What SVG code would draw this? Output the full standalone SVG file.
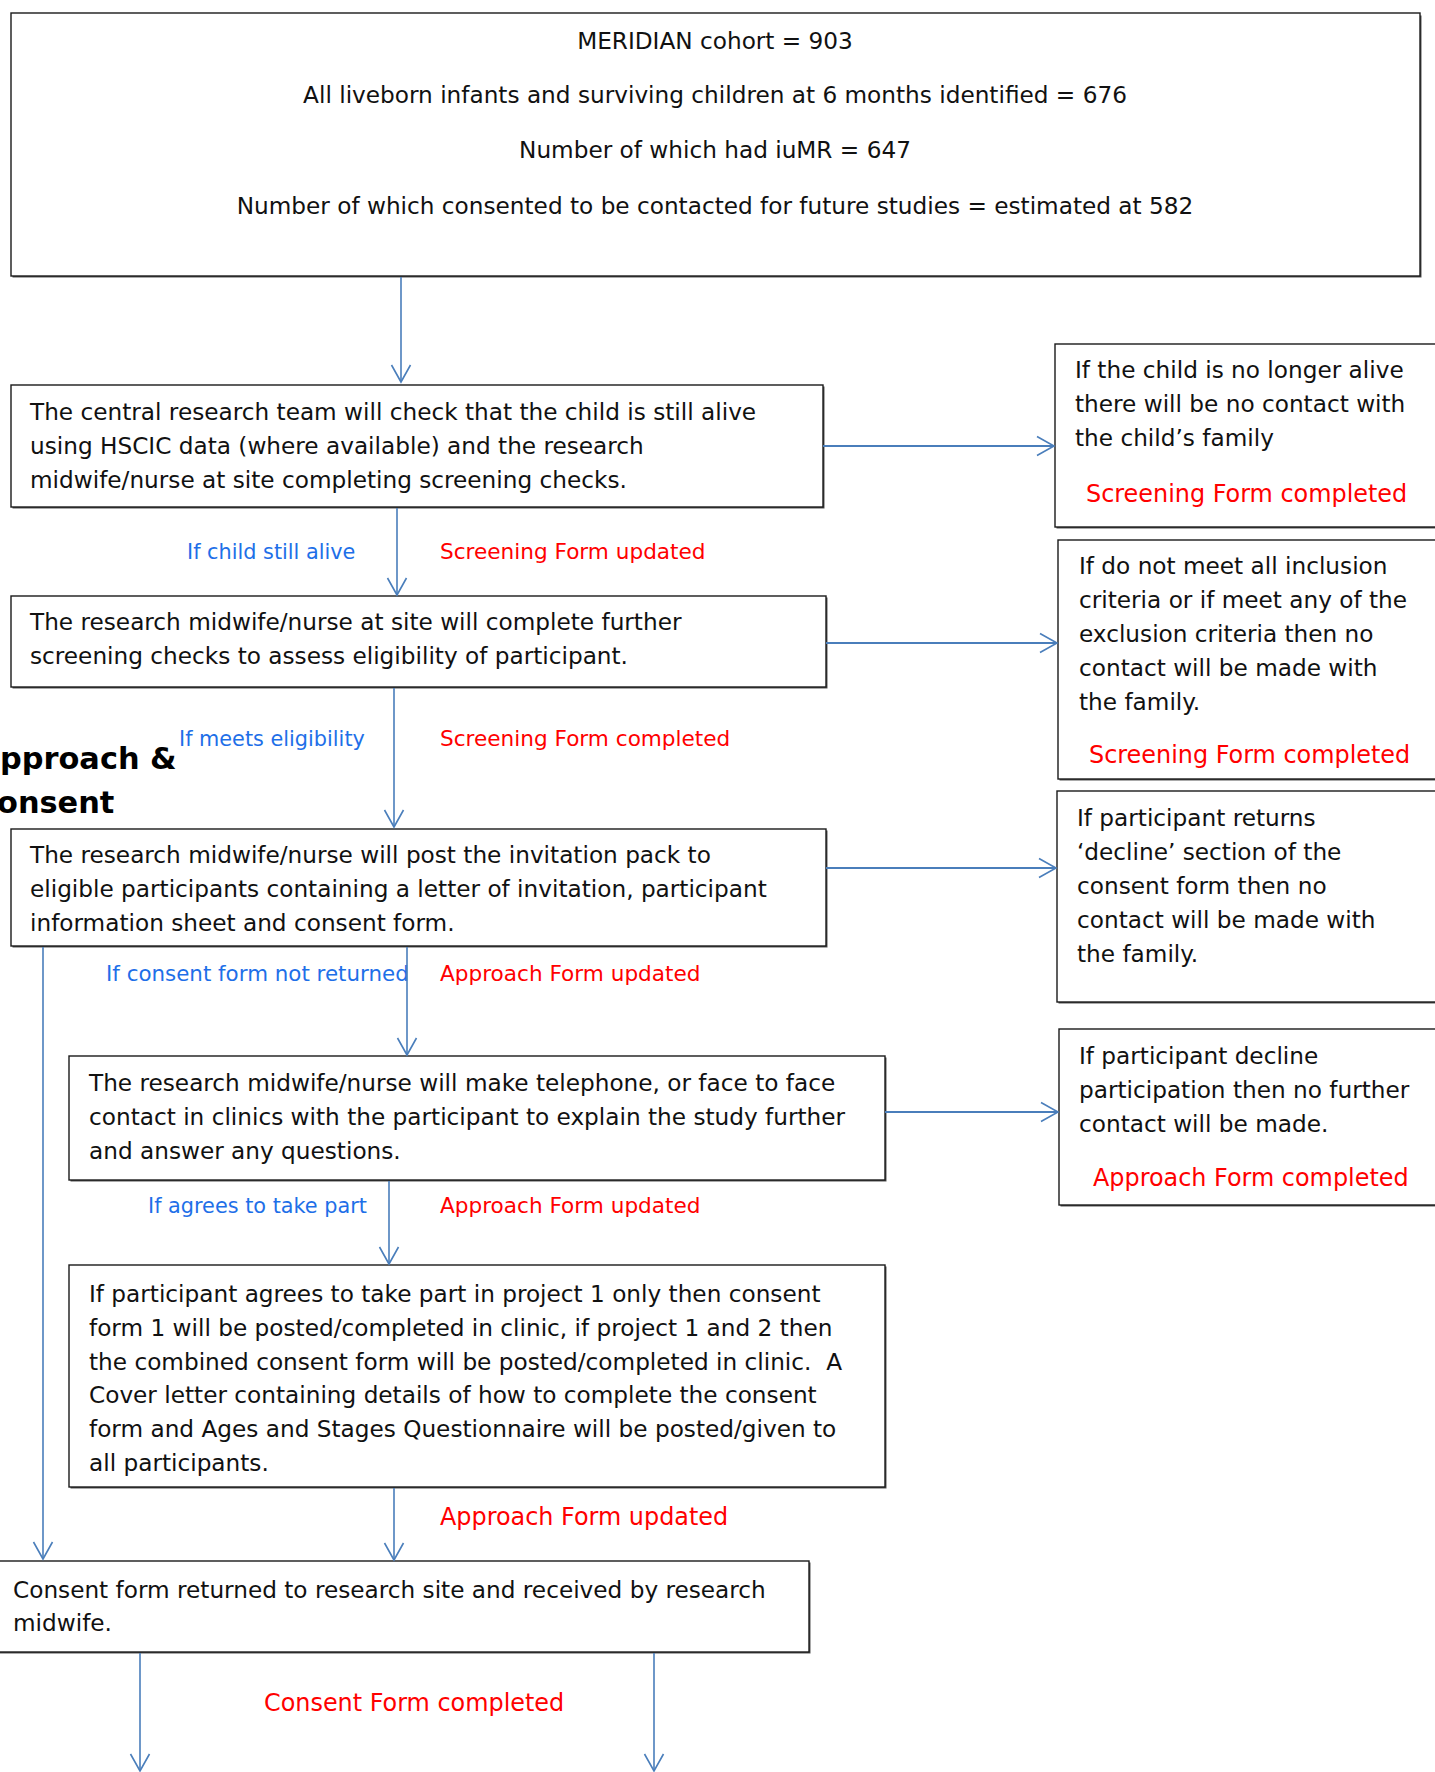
<svg xmlns="http://www.w3.org/2000/svg" width="1435" height="1772" viewBox="0 0 1435 1772">
<style>
.box{fill:#fff;stroke:#1a1a1a;stroke-width:1.4}
.sh{fill:#555;stroke:none}
.t{font-family:"DejaVu Sans",Verdana,sans-serif;font-size:23.2px;fill:#111}
.c{text-anchor:middle}
.lb{font-family:"DejaVu Sans",Verdana,sans-serif;font-size:20.8px;fill:#1E6FE8}
.lr{font-family:"DejaVu Sans",Verdana,sans-serif;font-size:21.6px;fill:#FF0000}
.rr{font-family:"DejaVu Sans",Verdana,sans-serif;font-size:23.9px;fill:#FF0000}
.h{font-family:"DejaVu Sans",Verdana,sans-serif;font-size:30.4px;font-weight:bold;fill:#000}
.cn{fill:none;stroke:#4A7EBB;stroke-width:1.6}
.cnh{fill:none;stroke:#4A7EBB;stroke-width:2.2}
</style>
<defs>
<marker id="arr" markerUnits="userSpaceOnUse" markerWidth="22" markerHeight="22" viewBox="-19 -11 21 22" refX="0" refY="0" orient="auto">
<path d="M-17,-9.5 L0,0 L-17,9.5" fill="none" stroke="#4A7EBB" stroke-width="1.6"/>
</marker>
</defs>
<rect width="1435" height="1772" fill="#fff"/>

<g id="heading">
<text class="h" x="0" y="769">pproach &amp;</text>
<text class="h" x="-3" y="813">onsent</text>
</g>

<g id="n-cohort">
<rect class="sh" x="12.5" y="15.5" width="1409" height="262"/>
<rect class="box" x="11" y="13" width="1409" height="263"/>
<text class="t c" x="715" y="49">MERIDIAN cohort = 903</text>
<text class="t c" x="715" y="103">All liveborn infants and surviving children at 6 months identified = 676</text>
<text class="t c" x="715" y="158">Number of which had iuMR = 647</text>
<text class="t c" x="715" y="214">Number of which consented to be contacted for future studies = estimated at 582</text>
</g>

<g id="n-check">
<rect class="sh" x="12.5" y="386.5" width="812" height="122"/>
<rect class="box" x="11" y="385" width="812" height="122"/>
<text class="t" x="30" y="420">The central research team will check that the child is still alive</text>
<text class="t" x="30" y="454">using HSCIC data (where available) and the research</text>
<text class="t" x="30" y="488">midwife/nurse at site completing screening checks.</text>
</g>

<g id="n-notalive">
<rect class="sh" x="1056.5" y="345.5" width="390" height="183"/>
<rect class="box" x="1055" y="344" width="390" height="183"/>
<text class="t" x="1075" y="378">If the child is no longer alive</text>
<text class="t" x="1075" y="412">there will be no contact with</text>
<text class="t" x="1075" y="446">the child’s family</text>
<text class="rr" x="1086" y="502">Screening Form completed</text>
</g>

<g id="n-eligibility">
<rect class="sh" x="12.5" y="597.5" width="815" height="91"/>
<rect class="box" x="11" y="596" width="815" height="91"/>
<text class="t" x="30" y="630">The research midwife/nurse at site will complete further</text>
<text class="t" x="30" y="664">screening checks to assess eligibility of participant.</text>
</g>

<g id="n-noteligible">
<rect class="sh" x="1059.5" y="541.5" width="390" height="239"/>
<rect class="box" x="1058" y="540" width="390" height="239"/>
<text class="t" x="1079" y="574">If do not meet all inclusion</text>
<text class="t" x="1079" y="608">criteria or if meet any of the</text>
<text class="t" x="1079" y="642">exclusion criteria then no</text>
<text class="t" x="1079" y="676">contact will be made with</text>
<text class="t" x="1079" y="710">the family.</text>
<text class="rr" x="1089" y="763">Screening Form completed</text>
</g>

<g id="n-invitation">
<rect class="sh" x="12.5" y="830.5" width="815" height="117"/>
<rect class="box" x="11" y="829" width="815" height="117"/>
<text class="t" x="30" y="863">The research midwife/nurse will post the invitation pack to</text>
<text class="t" x="30" y="897">eligible participants containing a letter of invitation, participant</text>
<text class="t" x="30" y="931">information sheet and consent form.</text>
</g>

<g id="n-declinereturn">
<rect class="sh" x="1058.5" y="792.5" width="390" height="211"/>
<rect class="box" x="1057" y="791" width="390" height="211"/>
<text class="t" x="1077" y="826">If participant returns</text>
<text class="t" x="1077" y="860">‘decline’ section of the</text>
<text class="t" x="1077" y="894">consent form then no</text>
<text class="t" x="1077" y="928">contact will be made with</text>
<text class="t" x="1077" y="962">the family.</text>
</g>

<g id="n-contact">
<rect class="sh" x="70.5" y="1057.5" width="816" height="124"/>
<rect class="box" x="69" y="1056" width="816" height="124"/>
<text class="t" x="89" y="1091">The research midwife/nurse will make telephone, or face to face</text>
<text class="t" x="89" y="1125">contact in clinics with the participant to explain the study further</text>
<text class="t" x="89" y="1159">and answer any questions.</text>
</g>

<g id="n-decline">
<rect class="sh" x="1060.5" y="1030.5" width="390" height="176"/>
<rect class="box" x="1059" y="1029" width="390" height="176"/>
<text class="t" x="1079" y="1064">If participant decline</text>
<text class="t" x="1079" y="1098">participation then no further</text>
<text class="t" x="1079" y="1132">contact will be made.</text>
<text class="rr" x="1093" y="1186">Approach Form completed</text>
</g>

<g id="n-consentforms">
<rect class="sh" x="70.5" y="1266.5" width="816" height="222"/>
<rect class="box" x="69" y="1265" width="816" height="222"/>
<text class="t" x="89" y="1302">If participant agrees to take part in project 1 only then consent</text>
<text class="t" x="89" y="1336">form 1 will be posted/completed in clinic, if project 1 and 2 then</text>
<text class="t" x="89" y="1370" xml:space="preserve">the combined consent form will be posted/completed in clinic.  A</text>
<text class="t" x="89" y="1403">Cover letter containing details of how to complete the consent</text>
<text class="t" x="89" y="1437">form and Ages and Stages Questionnaire will be posted/given to</text>
<text class="t" x="89" y="1471">all participants.</text>
</g>

<g id="n-returned">
<rect class="sh" x="-3.5" y="1562.5" width="814" height="91"/>
<rect class="box" x="-5" y="1561" width="814" height="91"/>
<text class="t" x="13" y="1598">Consent form returned to research site and received by research</text>
<text class="t" x="13" y="1631">midwife.</text>
</g>

<g id="labels">
<text class="lb" x="187" y="559">If child still alive</text>
<text class="lr" x="440" y="559">Screening Form updated</text>
<text class="lb" x="179" y="746">If meets eligibility</text>
<text class="lr" x="440" y="746">Screening Form completed</text>
<text class="lb" x="106" y="981" style="font-size:21.4px">If consent form not returned</text>
<text class="lr" x="440" y="981">Approach Form updated</text>
<text class="lb" x="148" y="1213">If agrees to take part</text>
<text class="lr" x="440" y="1213">Approach Form updated</text>
<text class="rr" x="440" y="1525">Approach Form updated</text>
<text class="rr" x="264" y="1711">Consent Form completed</text>
</g>

<g id="connectors">
<line class="cn" x1="401" y1="277" x2="401" y2="382" marker-end="url(#arr)"/>
<line class="cnh" x1="823" y1="446" x2="1054" y2="446" marker-end="url(#arr)"/>
<line class="cn" x1="397" y1="508" x2="397" y2="595" marker-end="url(#arr)"/>
<line class="cnh" x1="826" y1="643" x2="1057" y2="643" marker-end="url(#arr)"/>
<line class="cn" x1="394" y1="688" x2="394" y2="827" marker-end="url(#arr)"/>
<line class="cnh" x1="826" y1="868" x2="1056" y2="868" marker-end="url(#arr)"/>
<line class="cn" x1="407" y1="947" x2="407" y2="1055" marker-end="url(#arr)"/>
<line class="cn" x1="43" y1="947" x2="43" y2="1559" marker-end="url(#arr)"/>
<line class="cnh" x1="885" y1="1112" x2="1058" y2="1112" marker-end="url(#arr)"/>
<line class="cn" x1="389" y1="1181" x2="389" y2="1264" marker-end="url(#arr)"/>
<line class="cn" x1="394" y1="1488" x2="394" y2="1560" marker-end="url(#arr)"/>
<line class="cn" x1="140" y1="1653" x2="140" y2="1771" marker-end="url(#arr)"/>
<line class="cn" x1="654" y1="1653" x2="654" y2="1771" marker-end="url(#arr)"/>
</g>
</svg>
